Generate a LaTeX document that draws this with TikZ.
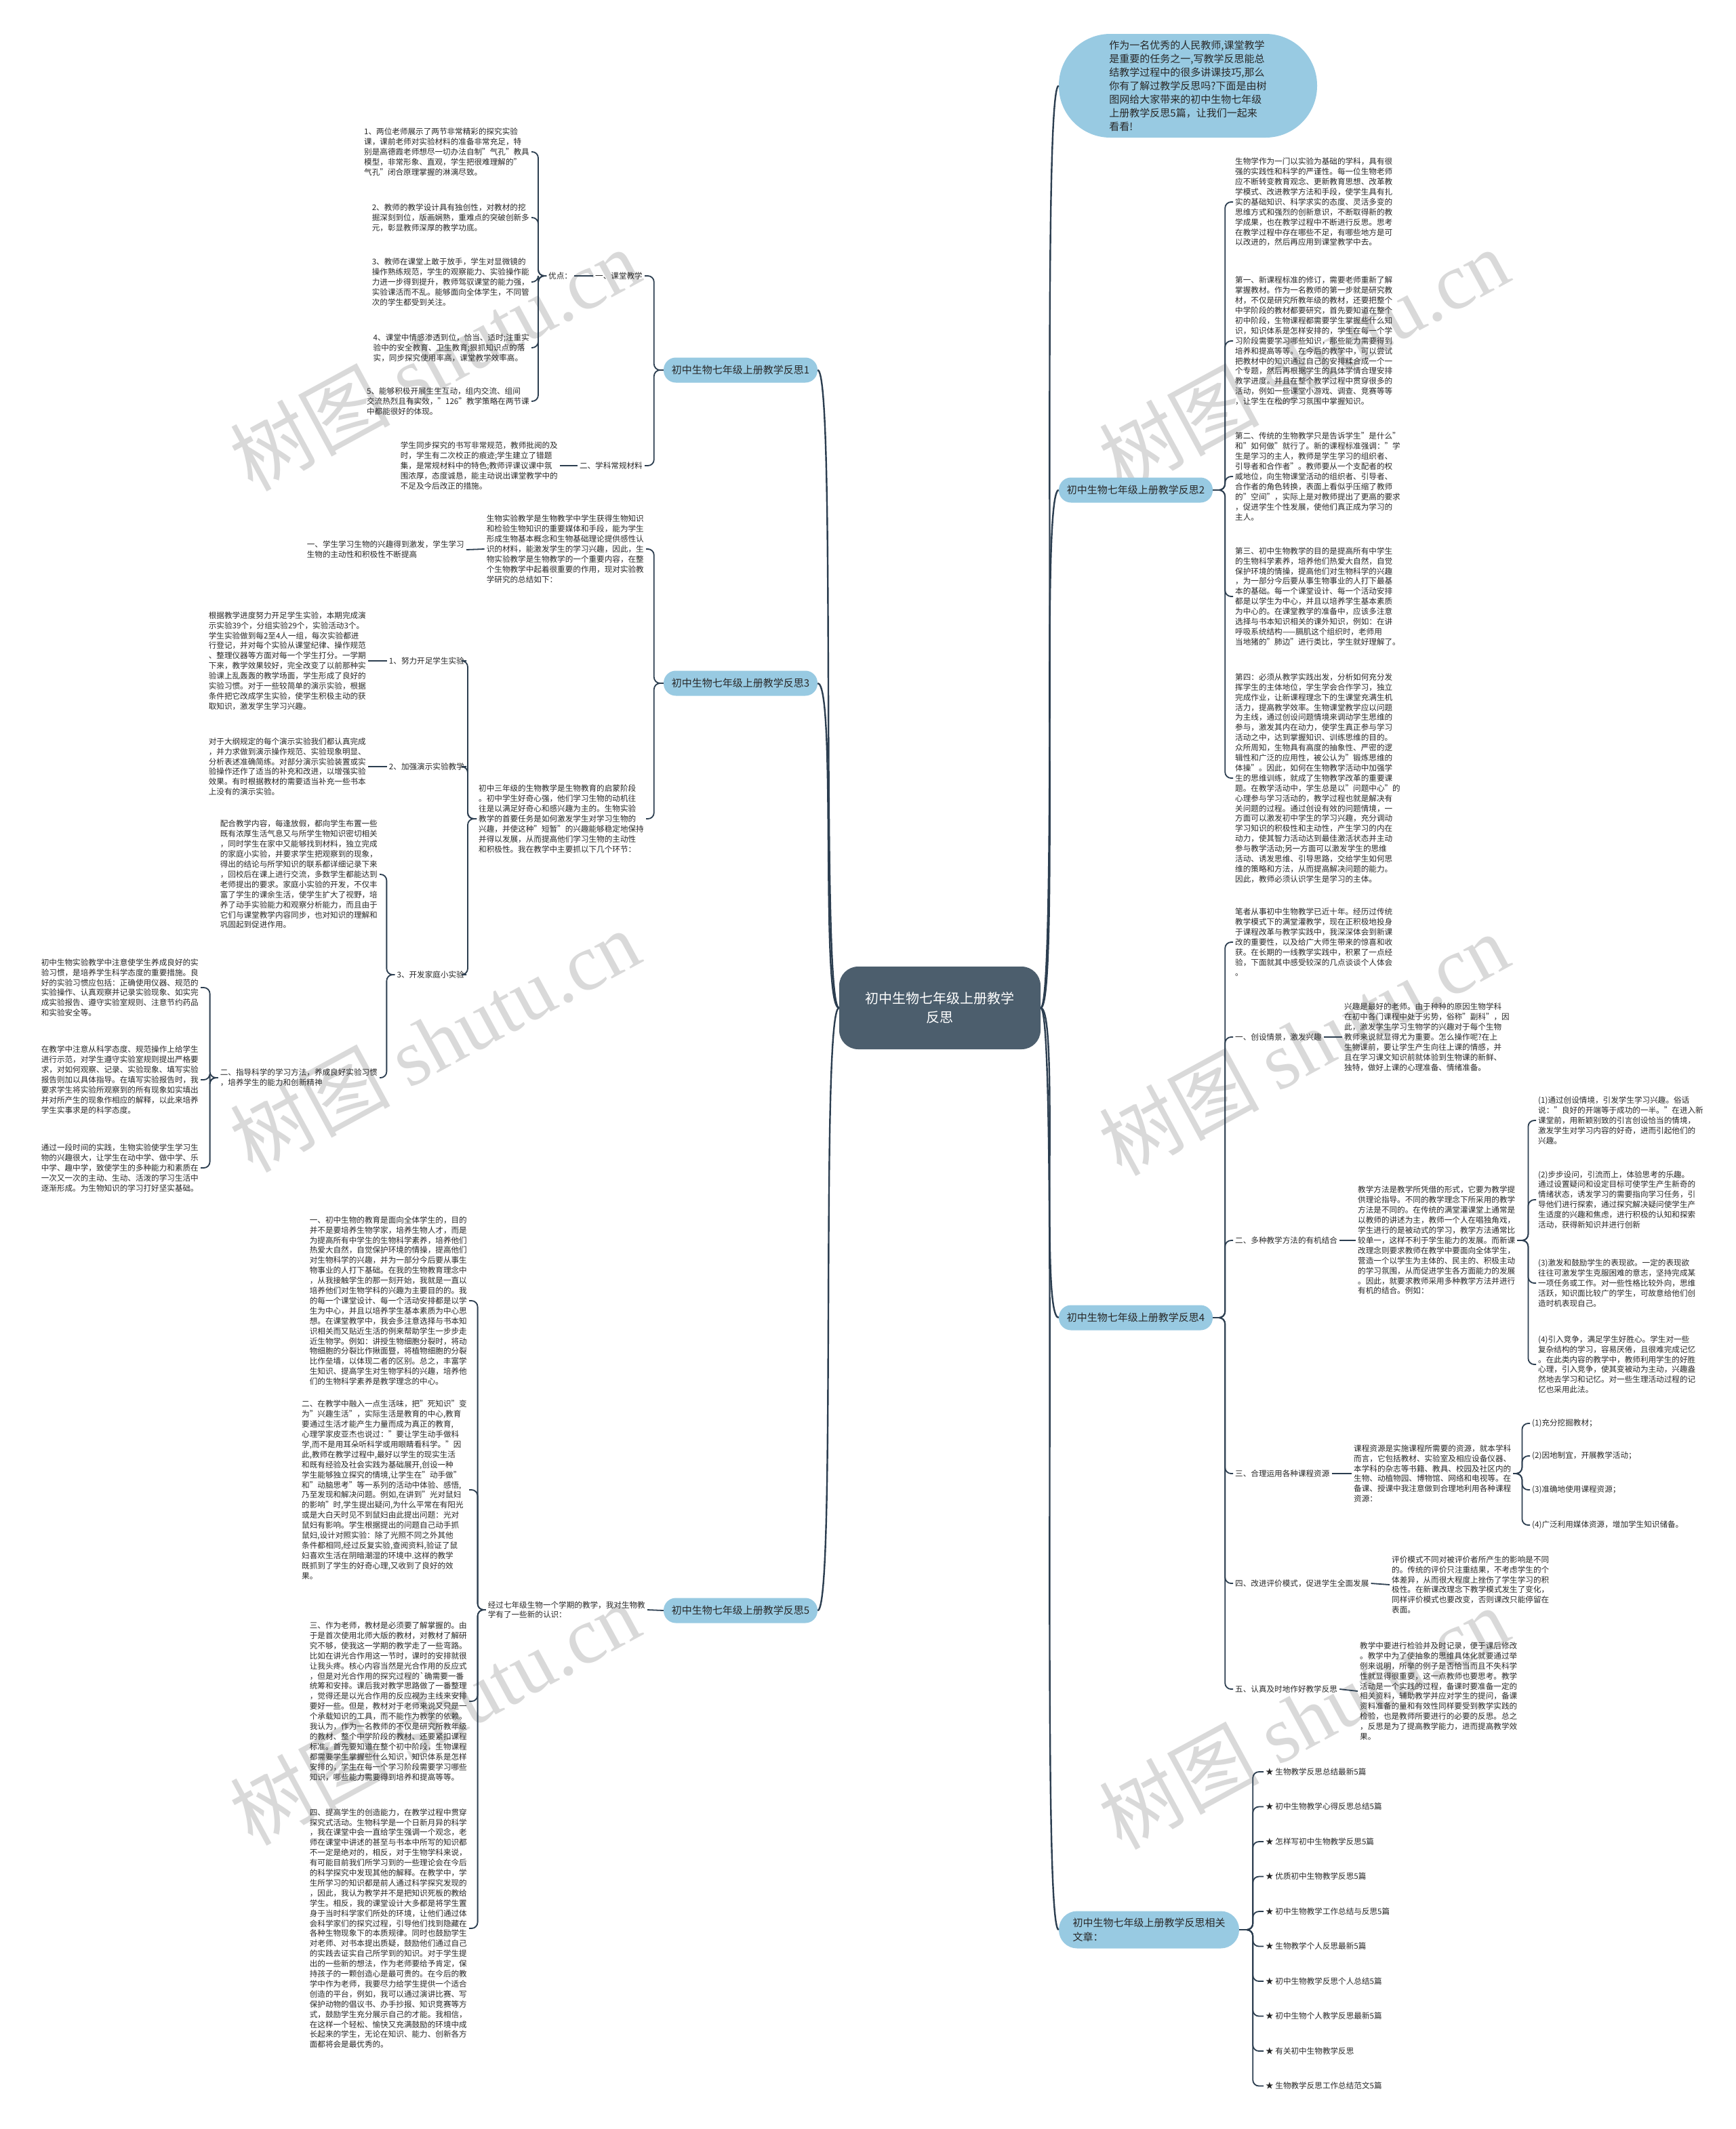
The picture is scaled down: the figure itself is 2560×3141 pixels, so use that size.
\documentclass[tikz,border=0pt]{standalone}
\usepackage{fontspec}
\setmainfont{Noto Sans CJK SC}
\newfontfamily\wmfont{Liberation Serif}
\usepackage{xcolor}
\usepackage{tikz}
\definecolor{topicblue}{RGB}{152,202,226}
\definecolor{rootgray}{RGB}{76,94,109}
\definecolor{linec}{RGB}{44,62,80}
\definecolor{txtc}{RGB}{40,40,40}

\begin{document}
\begin{tikzpicture}[x=1pt, y=-1pt,
    txt/.style={font=\fontsize{11.6}{14.9}\selectfont, text=txtc, align=left, inner sep=3pt},
    topic/.style={fill=topicblue, rounded corners=18pt, minimum width=227pt, minimum height=37pt, inner sep=0pt, font=\fontsize{15}{20}\selectfont, text=txtc},
    conn/.style={draw=linec, line width=1.8pt, rounded corners=9pt},
    main/.style={draw=linec, line width=2.4pt},
    wm/.style={text=black!15, font=\fontsize{118}{118}\selectfont, rotate=28.5, inner sep=0pt}
]
\path[use as bounding box, fill=white] (0,0) rectangle (2560,3141);

\foreach \p [count=\k] in {(641,530),(1923,530),(641,1535),(1923,1540),(641,2528),(1923,2534)}
  \node[wm] (w\k) at \p {树图 {\wmfont shutu.cn}};

\node[fill=rootgray, rounded corners=28pt, minimum width=297pt, minimum height=122pt, text=white, font=\fontsize{20}{28}\selectfont, align=center] (ctr) at (1386.5,1487) {初中生物七年级上册教学\\反思};

\node[fill=topicblue, rounded corners=76pt, minimum width=381pt, minimum height=153pt, font=\fontsize{15}{20}\selectfont, text=txtc, align=left] (intro) at (1752.5,126.5) {作为一名优秀的人民教师,课堂教学\\是重要的任务之一,写教学反思能总\\结教学过程中的很多讲课技巧,那么\\你有了解过教学反思吗?下面是由树\\图网给大家带来的初中生物七年级\\上册教学反思5篇，让我们一起来\\看看!};

\node[topic] (b1) at (1092.5,546) {初中生物七年级上册教学反思1};
\node[topic] (b3) at (1092.5,1008) {初中生物七年级上册教学反思3};
\node[topic] (b5) at (1092.5,2376) {初中生物七年级上册教学反思5};
\node[topic] (b2) at (1675.5,723) {初中生物七年级上册教学反思2};
\node[topic] (b4) at (1675.5,1944) {初中生物七年级上册教学反思4};
\node[topic, minimum width=266pt, minimum height=55pt, rounded corners=27pt, align=left, font=\fontsize{15}{21}\selectfont] (rel) at (1695,2847) {初中生物七年级上册教学反思相关\\文章：};

\draw[main] (ctr.west) .. controls +(-28,0) and +(28,0) .. (b1.east);
\draw[main] (ctr.west) .. controls +(-28,0) and +(28,0) .. (b3.east);
\draw[main] (ctr.west) .. controls +(-28,0) and +(28,0) .. (b5.east);
\draw[main] (ctr.east) .. controls +(28,0) and +(-28,0) .. (intro.west);
\draw[main] (ctr.east) .. controls +(28,0) and +(-28,0) .. (b2.west);
\draw[main] (ctr.east) .. controls +(28,0) and +(-28,0) .. (b4.west);
\draw[main] (ctr.east) .. controls +(28,0) and +(-28,0) .. (rel.west);

% reflection 1
\node[txt, anchor=east] (k1) at (951,407) {一、课堂教学};
\node[txt, anchor=east] (k2) at (951,687) {二、学科常规材料};
\node[txt, anchor=west] (opt) at (806,407) {优点：};
\node[txt, anchor=east] (i1) at (784,224) {1、两位老师展示了两节非常精彩的探究实验\\课，课前老师对实验材料的准备非常充足，特\\别是高德霞老师想尽一切办法自制"气孔"教具\\模型，非常形象、直观，学生把很难理解的"\\气孔"闭合原理掌握的淋漓尽致。};
\node[txt, anchor=east] (i2) at (784,321) {2、教师的教学设计具有独创性，对教材的挖\\掘深刻到位，版画娴熟，重难点的突破创新多\\元，彰显教师深厚的教学功底。};
\node[txt, anchor=east] (i3) at (784,416) {3、教师在课堂上敢于放手，学生对显微镜的\\操作熟练规范，学生的观察能力、实验操作能\\力进一步得到提升，教师驾驭课堂的能力强，\\实验课活而不乱。能够面向全体学生，不同管\\次的学生都受到关注。};
\node[txt, anchor=east] (i4) at (784,513) {4、课堂中情感渗透到位，恰当、适时;注重实\\验中的安全教育、卫生教育;狠抓知识点的落\\实，同步探究使用率高，课堂教学效率高。};
\node[txt, anchor=east] (i5) at (784,592) {5、能够积极开展生生互动，组内交流、组间\\交流热烈且有实效，"126"教学策略在两节课\\中都能很好的体现。};
\node[txt, anchor=east] (c1) at (826,687) {学生同步探究的书写非常规范，教师批阅的及\\时，学生有二次校正的痕迹;学生建立了错题\\集，是常规材料中的特色;教师评课议课中氛\\围浓厚，态度诚恳，能主动说出课堂教学中的\\不足及今后改正的措施。};

\foreach \c in {k1,k2} \draw[conn] (b1.west) -- ++(-14,0) |- (\c.east);
\foreach \c in {i1,i2,i3,i4,i5} \draw[conn] (opt.west) -- ++(-12,0) |- (\c.east);
\draw[conn] (k1.west) -- (opt.east);
\draw[conn] (k2.west) -- (c1.east);

% reflection 3
\node[txt, anchor=east] (ta) at (953,810) {生物实验教学是生物教学中学生获得生物知识\\和检验生物知识的重要媒体和手段，能为学生\\形成生物基本概念和生物基础理论提供感性认\\识的材料，能激发学生的学习兴趣，因此，生\\物实验教学是生物教学的一个重要内容，在整\\个生物教学中起着很重要的作用，现对实验教\\学研究的总结如下：};
\node[txt, anchor=east] (ta1) at (688,811) {一、学生学习生物的兴趣得到激发，学生学习\\生物的主动性和积极性不断提高};
\node[txt, anchor=east] (tb) at (953,1208) {初中三年级的生物教学是生物教育的启蒙阶段\\。初中学生好奇心强，他们学习生物的动机往\\往是以满足好奇心和感兴趣为主的。生物实验\\教学的首要任务是如何激发学生对学习生物的\\兴趣，并使这种"短暂"的兴趣能够稳定地保持\\并得以发展，从而提高他们学习生物的主动性\\和积极性。我在教学中主要抓以下几个环节：};
\node[txt, anchor=east] (n1) at (688,975) {1、努力开足学生实验};
\node[txt, anchor=east] (n2) at (688,1131) {2、加强演示实验教学};
\node[txt, anchor=east] (n3) at (688,1438) {3、开发家庭小实验};
\node[txt, anchor=east] (t1) at (543,975) {根据教学进度努力开足学生实验，本期完成演\\示实验39个，分组实验29个，实验活动3个。\\学生实验做到每2至4人一组，每次实验都进\\行登记，并对每个实验从课堂纪律、操作规范\\、整理仪器等方面对每一个学生打分。一学期\\下来，教学效果较好，完全改变了以前那种实\\验课上乱轰轰的教学场面，学生形成了良好的\\实验习惯。对于一些较简单的演示实验，根据\\条件把它改成学生实验，使学生积极主动的获\\取知识，激发学生学习兴趣。};
\node[txt, anchor=east] (t2) at (543,1131) {对于大纲规定的每个演示实验我们都认真完成\\，并力求做到演示操作规范、实验现象明显、\\分析表述准确简练。对部分演示实验装置或实\\验操作还作了适当的补充和改进，以增强实验\\效果。有时根据教材的需要适当补充一些书本\\上没有的演示实验。};
\node[txt, anchor=east] (t3) at (560,1290) {配合教学内容，每逢放假，都向学生布置一些\\既有浓厚生活气息又与所学生物知识密切相关\\，同时学生在家中又能够找到材料，独立完成\\的家庭小实验，并要求学生把观察到的现象，\\得出的结论与所学知识的联系都详细记录下来\\，回校后在课上进行交流，多数学生都能达到\\老师提出的要求。家庭小实验的开发，不仅丰\\富了学生的课余生活，使学生扩大了视野，培\\养了动手实验能力和观察分析能力，而且由于\\它们与课堂教学内容同步，也对知识的理解和\\巩固起到促进作用。};
\node[txt, anchor=east] (n4) at (560,1590) {二、指导科学的学习方法，养成良好实验习惯\\，培养学生的能力和创新精神};
\node[txt, anchor=east] (u1) at (296,1457) {初中生物实验教学中注意使学生养成良好的实\\验习惯，是培养学生科学态度的重要措施。良\\好的实验习惯应包括：正确使用仪器、规范的\\实验操作、认真观察并记录实验现象、如实完\\成实验报告、遵守实验室规则、注意节约药品\\和实验安全等。};
\node[txt, anchor=east] (u2) at (296,1593) {在教学中注意从科学态度、规范操作上给学生\\进行示范，对学生遵守实验室规则提出严格要\\求，对如何观察、记录、实验现象、填写实验\\报告则加以具体指导。在填写实验报告时，我\\要求学生将实验所观察到的所有现象如实填出\\并对所产生的现象作相应的解释，以此来培养\\学生实事求是的科学态度。};
\node[txt, anchor=east] (u3) at (296,1723) {通过一段时间的实践，生物实验使学生学习生\\物的兴趣很大，让学生在动中学、做中学、乐\\中学、趣中学，致使学生的多种能力和素质在\\一次又一次的主动、生动、活泼的学习生活中\\逐渐形成。为生物知识的学习打好坚实基础。};

\foreach \c in {ta,tb} \draw[conn] (b3.west) -- ++(-14,0) |- (\c.east);
\draw[conn] (ta.west) -- (ta1.east);
\foreach \c in {n1,n2,n3} \draw[conn] (tb.west) -- ++(-13,0) |- (\c.east);
\draw[conn] (n1.west) -- (t1.east);
\draw[conn] (n2.west) -- (t2.east);
\foreach \c in {t3,n4} \draw[conn] (n3.west) -- ++(-12,0) |- (\c.east);
\foreach \c in {u1,u2,u3} \draw[conn] (n4.west) -- ++(-12,0) |- (\c.east);

% reflection 5
\node[txt, anchor=east] (v0) at (955,2375) {经过七年级生物一个学期的教学，我对生物教\\学有了一些新的认识：};
\node[txt, anchor=east] (v1) at (692,1919) {一、初中生物的教育是面向全体学生的，目的\\并不是要培养生物学家，培养生物人才，而是\\为提高所有中学生的生物科学素养，培养他们\\热爱大自然，自觉保护环境的情操，提高他们\\对生物科学的兴趣，并为一部分今后要从事生\\物事业的人打下基础。在我的生物教育理念中\\，从我接触学生的那一刻开始，我就是一直以\\培养他们对生物学科的兴趣为主要目的的。我\\的每一个课堂设计、每一个活动安排都是以学\\生为中心，并且以培养学生基本素质为中心思\\想。在课堂教学中，我会多注意选择与书本知\\识相关而又贴近生活的例来帮助学生一步步走\\近生物学。例如：讲授生物细胞分裂时，将动\\物细胞的分裂比作揪面暨，将植物细胞的分裂\\比作垒墙，以体现二者的区别。总之，丰富学\\生知识、提高学生对生物学科的兴趣，培养他\\们的生物科学素养是教学理念的中心。};
\node[txt, anchor=east] (v2) at (692,2198) {二、在教学中融入一点生活味，把"死知识"变\\为"兴趣生活"，实际生活是教育的中心,教育\\要通过生活才能产生力量而成为真正的教育,\\心理学家皮亚杰也说过："要让学生动手做科\\学,而不是用耳朵听科学或用眼睛看科学。"因\\此,教师在教学过程中,最好以学生的现实生活\\和既有经验及社会实践为基础展开,创设一种\\学生能够独立探究的情境,让学生在"动手做"\\和"动脑思考"等一系列的活动中体验、感悟,\\乃至发现和解决问题。例如,在讲到"光对鼠妇\\的影响"时,学生提出疑问,为什么平常在有阳光\\或是大白天时见不到鼠妇由此提出问题：光对\\鼠妇有影响。学生根据提出的问题自己动手抓\\鼠妇,设计对照实验：除了光照不同之外其他\\条件都相同,经过反复实验,查阅资料,验证了鼠\\妇喜欢生活在阴暗潮湿的环境中.这样的教学\\既抓到了学生的好奇心理,又收到了良好的效\\果。};
\node[txt, anchor=east] (v3) at (692,2510) {三、作为老师，教材是必须要了解掌握的。由\\于是首次使用北师大版的教材，对教材了解研\\究不够，使我这一学期的教学走了一些弯路。\\比如在讲光合作用这一节时，课时的安排就很\\让我头疼。核心内容当然是光合作用的反应式\\，但是对光合作用的探究过程的\textasciigrave 确需要一番\\统筹和安排。课后我对教学思路做了一番整理\\，觉得还是以光合作用的反应视为主线来安排\\要好一些。但是，教材对于老师来说又只是一\\个承载知识的工具，而不能作为教学的依赖。\\我认为，作为一名教师的不仅是研究所教年级\\的教材、整个中学阶段的教材、还要紧扣课程\\标准。首先要知道在整个初中阶段，生物课程\\都需要学生掌握些什么知识，知识体系是怎样\\安排的，学生在每一个学习阶段需要学习哪些\\知识，哪些能力需要得到培养和提高等等。};
\node[txt, anchor=east] (v4) at (692,2845) {四、提高学生的创造能力，在教学过程中贯穿\\探究式活动。生物科学是一个日新月异的科学\\，我在课堂中会一直给学生强调一个观念，老\\师在课堂中讲述的甚至与书本中所写的知识都\\不一定是绝对的，相反，对于生物学科来说，\\有可能目前我们所学习到的一些理论会在今后\\的科学探究中发现其他的解释。在教学中，学\\生所学习的知识都是前人通过科学探究发现的\\，因此，我认为教学并不是把知识死板的教给\\学生。相反，我的课堂设计大多都是将学生置\\身于当时科学家们所处的环境，让他们通过体\\会科学家们的探究过程，引导他们找到隐藏在\\各种生物现象下的本质规律。同时也鼓励学生\\对老师、对书本提出质疑，鼓励他们通过自己\\的实践去证实自己所学到的知识。对于学生提\\出的一些新的想法，作为老师要给予肯定，保\\持孩子的一颗创造心是最可贵的。在今后的教\\学中作为老师，我要尽力给学生提供一个适合\\创造的平台，例如，我可以通过演讲比赛、写\\保护动物的倡议书、办手抄报、知识竞赛等方\\式，鼓励学生充分展示自己的才能。我相信，\\在这样一个轻松、愉快又充满鼓励的环境中成\\长起来的学生，无论在知识、能力、创新各方\\面都将会是最优秀的。};

\draw[conn] (b5.west) -- (v0.east);
\foreach \c in {v1,v2,v3,v4} \draw[conn] (v0.west) -- ++(-12,0) |- (\c.east);

% reflection 2
\node[txt, anchor=west] (p0) at (1819,298) {生物学作为一门以实验为基础的学科，具有很\\强的实践性和科学的严谨性。每一位生物老师\\应不断转变教育观念、更新教育思想、改革教\\学模式、改进教学方法和手段，使学生具有扎\\实的基础知识、科学求实的态度、灵活多变的\\思维方式和强烈的创新意识，不断取得新的教\\学成果，也在教学过程中不断进行反思。思考\\在教学过程中存在哪些不足，有哪些地方是可\\以改进的，然后再应用到课堂教学中去。};
\node[txt, anchor=west] (p1) at (1819,503) {第一、新课程标准的修订，需要老师重新了解\\掌握教材。作为一名教师的第一步就是研究教\\材，不仅是研究所教年级的教材，还要把整个\\中学阶段的教材都要研究，首先要知道在整个\\初中阶段，生物课程都需要学生掌握些什么知\\识，知识体系是怎样安排的，学生在每一个学\\习阶段需要学习哪些知识，那些能力需要得到\\培养和提高等等。在今后的教学中，可以尝试\\把教材中的知识通过自己的安排糅合成一个一\\个专题，然后再根据学生的具体学情合理安排\\教学进度。并且在整个教学过程中贯穿很多的\\活动，例如一些课堂小游戏、调查、竞赛等等\\，让学生在松的学习氛围中掌握知识。};
\node[txt, anchor=west] (p2) at (1819,703) {第二、传统的生物教学只是告诉学生"是什么"\\和"如何做"就行了。新的课程标准强调："学\\生是学习的主人，教师是学生学习的组织者、\\引导者和合作者"。教师要从一个支配者的权\\威地位，向生物课堂活动的组织者、引导者、\\合作者的角色转换，表面上看似乎压缩了教师\\的"空间"，实际上是对教师提出了更高的要求\\，促进学生个性发展，使他们真正成为学习的\\主人。};
\node[txt, anchor=west] (p3) at (1819,880) {第三、初中生物教学的目的是提高所有中学生\\的生物科学素养，培养他们热爱大自然，自觉\\保护环境的情操，提高他们对生物科学的兴趣\\，为一部分今后要从事生物事业的人打下最基\\本的基础。每一个课堂设计、每一个活动安排\\都是以学生为中心，并且以培养学生基本素质\\为中心的。在课堂教学的准备中，应该多注意\\选择与书本知识相关的课外知识，例如：在讲\\呼吸系统结构——膈肌这个组织时，老师用\\当地猪的"肺边"进行类比，学生就好理解了。};
\node[txt, anchor=west] (p4) at (1819,1148) {第四：必须从教学实践出发，分析如何充分发\\挥学生的主体地位，学生学会合作学习，独立\\完成作业，让新课程理念下的生课堂充满生机\\活力，提高教学效率。生物课堂教学应以问题\\为主线，通过创设问题情境来调动学生思维的\\参与，激发其内在动力，使学生真正参与学习\\活动之中，达到掌握知识、训练思维的目的。\\众所周知，生物具有高度的抽象性、严密的逻\\辑性和广泛的应用性，被公认为"锻炼思维的\\体操"。因此，如何在生物教学活动中加强学\\生的思维训练，就成了生物教学改革的重要课\\题。在教学活动中，学生总是以"问题中心"的\\心理参与学习活动的，教学过程也就是解决有\\关问题的过程。通过创设有效的问题情境，一\\方面可以激发初中学生的学习兴趣，充分调动\\学习知识的积极性和主动性，产生学习的内在\\动力，使其智力活动达到最佳激活状态并主动\\参与教学活动;另一方面可以激发学生的思维\\活动、诱发思维、引导思路，交给学生如何思\\维的策略和方法，从而提高解决问题的能力。\\因此，教师必须认识学生是学习的主体。};

\foreach \c in {p0,p1,p2,p3,p4} \draw[conn] (b2.east) -- ++(18,0) |- (\c.west);

% reflection 4
\node[txt, anchor=west] (q0) at (1819,1390) {笔者从事初中生物教学已近十年。经历过传统\\教学模式下的满堂灌教学，现在正积极地投身\\于课程改革与教学实践中，我深深体会到新课\\改的重要性，以及给广大师生带来的惊喜和收\\获。在长期的一线教学实践中，积累了一点经\\验，下面就其中感受较深的几点谈谈个人体会\\。};
\node[txt, anchor=west] (g1) at (1819,1530) {一、创设情景，激发兴趣};
\node[txt, anchor=west] (g2) at (1819,1830) {二、多种教学方法的有机结合};
\node[txt, anchor=west] (g3) at (1819,2174) {三、合理运用各种课程资源};
\node[txt, anchor=west] (g4) at (1819,2336) {四、改进评价模式，促进学生全面发展};
\node[txt, anchor=west] (g5) at (1819,2492) {五、认真及时地作好教学反思};
\node[txt, anchor=west] (h1) at (1980,1530) {兴趣是最好的老师。由于种种的原因生物学科\\在初中各门课程中处于劣势，俗称"副科"，因\\此，激发学生学习生物学的兴趣对于每个生物\\教师来说就显得尤为重要。怎么操作呢?在上\\生物课前，要让学生产生向往上课的情感，并\\且在学习课文知识前就体验到生物课的新鲜、\\独特，做好上课的心理准备、情绪准备。};
\node[txt, anchor=west] (h2) at (2000,1830) {教学方法是教学所凭借的形式，它要为教学提\\供理论指导。不同的教学理念下所采用的教学\\方法是不同的。在传统的满堂灌课堂上通常是\\以教师的讲述为主，教师一个人在唱独角戏，\\学生进行的是被动式的学习，教学方法通常比\\较单一，这样不利于学生能力的发展。而新课\\改理念则要求教师在教学中要面向全体学生，\\营造一个以学生为主体的、民主的、积极主动\\的学习氛围，从而促进学生各方面能力的发展\\。因此，就要求教师采用多种教学方法并进行\\有机的结合。例如：};
\node[txt, anchor=west] (s1) at (2266,1653) {(1)通过创设情境，引发学生学习兴趣。俗话\\说："良好的开端等于成功的一半。"在进入新\\课堂前，用新颖别致的引言创设恰当的情境，\\激发学生对学习内容的好奇，进而引起他们的\\兴趣。};
\node[txt, anchor=west] (s2) at (2266,1770) {(2)步步设问，引流而上，体验思考的乐趣。\\通过设置疑问和设定目标可使学生产生新奇的\\情绪状态，诱发学习的需要指向学习任务，引\\导他们进行探索，通过探究解决疑问使学生产\\生适度的兴趣和焦虑，进行积极的认知和探索\\活动，获得新知识并进行创新};
\node[txt, anchor=west] (s3) at (2266,1893) {(3)激发和鼓励学生的表现欲。一定的表现欲\\往往可激发学生克服困难的意志，坚持完成某\\一项任务或工作。对一些性格比较外向，思维\\活跃，知识面比较广的学生，可故意给他们创\\造时机表现自己。};
\node[txt, anchor=west] (s4) at (2266,2013) {(4)引入竞争，满足学生好胜心。学生对一些\\复杂结构的学习，容易厌倦，且很难完成记忆\\。在此类内容的教学中，教师利用学生的好胜\\心理，引入竞争，使其变被动为主动，兴趣盎\\然地去学习和记忆。对一些生理活动过程的记\\忆也采用此法。};
\node[txt, anchor=west] (h3) at (1994,2174) {课程资源是实施课程所需要的资源，就本学科\\而言，它包括教材、实验室及相应设备仪器、\\本学科的杂志等书籍、教具、校园及社区内的\\生物、动植物园、博物馆、网络和电视等。在\\备课、授课中我注意做到合理地利用各种课程\\资源：};
\node[txt, anchor=west] (r1) at (2257,2100) {(1)充分挖掘教材；};
\node[txt, anchor=west] (r2) at (2257,2148) {(2)因地制宜，开展教学活动；};
\node[txt, anchor=west] (r3) at (2257,2198) {(3)准确地使用课程资源；};
\node[txt, anchor=west] (r4) at (2257,2250) {(4)广泛利用媒体资源，增加学生知识储备。};
\node[txt, anchor=west] (h4) at (2050,2338) {评价模式不同对被评价者所产生的影响是不同\\的。传统的评价只注重结果，不考虑学生的个\\体差异，从而很大程度上挫伤了学生学习的积\\极性。在新课改理念下教学模式发生了变化，\\同样评价模式也要改变，否则课改只能停留在\\表面。};
\node[txt, anchor=west] (h5) at (2003,2495) {教学中要进行检验并及时记录，便于课后修改\\。教学中为了使抽象的思维具体化就要通过举\\例来说明，所举的例子是否恰当而且不失科学\\性就显得很重要，这一点教师也要思考。教学\\活动是一个实践的过程，备课时要准备一定的\\相关资料，辅助教学并应对学生的提问，备课\\资料准备的量和有效性同样要受到教学实践的\\检验，也是教师所要进行的必要的反思。总之\\，反思是为了提高教学能力，进而提高教学效\\果。};

\foreach \c in {q0,g1,g2,g3,g4,g5} \draw[conn] (b4.east) -- ++(18,0) |- (\c.west);
\foreach \c in {1,...,5} \draw[conn] (g\c.east) -- (h\c.west);
\foreach \c in {s1,s2,s3,s4} \draw[conn] (h2.east) -- ++(16,0) |- (\c.west);
\foreach \c in {r1,r2,r3,r4} \draw[conn] (h3.east) -- ++(13,0) |- (\c.west);

% related articles
\foreach \t [count=\k] in {生物教学反思总结最新5篇,初中生物教学心得反思总结5篇,怎样写初中生物教学反思5篇,优质初中生物教学反思5篇,初中生物教学工作总结与反思5篇,生物教学个人反思最新5篇,初中生物教学反思个人总结5篇,初中生物个人教学反思最新5篇,有关初中生物教学反思,生物教学反思工作总结范文5篇}
  \node[txt, anchor=west] (a\k) at (1864,2562.5+51.5*\k) {★ \t};
\foreach \k in {1,...,10} \draw[conn] (rel.east) -- ++(20,0) |- (a\k.west);

\end{tikzpicture}
\end{document}
